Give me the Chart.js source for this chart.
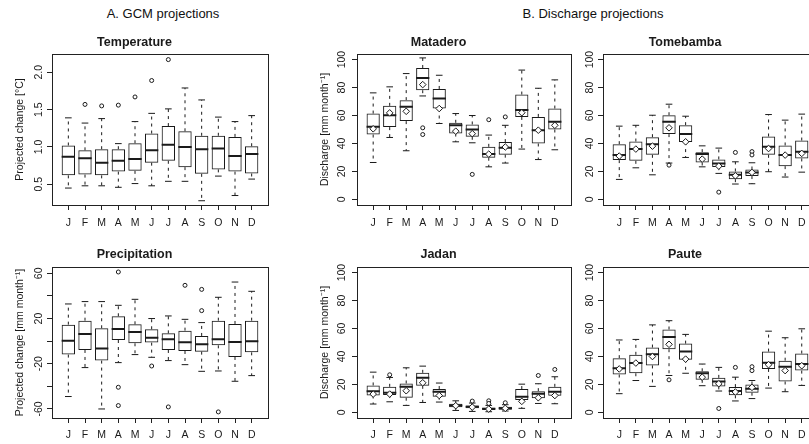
<!DOCTYPE html>
<html>
<head>
<meta charset="utf-8">
<script src="https://cdn.jsdelivr.net/npm/chart.js@4.4.1/dist/chart.umd.min.js"></script>
<style>
  html, body { margin: 0; padding: 0; width: 809px; height: 444px; overflow: hidden; background: #fff; }
  body { position: relative; font-family: "Liberation Sans", Arial, sans-serif; }
  canvas { position: absolute; }
  .col-title { position: absolute; font-size: 13px; color: #111; transform: translate(-50%, -50%); white-space: nowrap; }
</style>
</head>
<body>
<div class="col-title" style="left:163px;top:13px">A. GCM projections</div>
<div class="col-title" style="left:593px;top:13px">B. Discharge projections</div>
<canvas id="cTemp"></canvas>
<canvas id="cPrec"></canvas>
<canvas id="cMat"></canvas>
<canvas id="cTom"></canvas>
<canvas id="cJad"></canvas>
<canvas id="cPau"></canvas>
<script>
const MONTHS = ['J', 'F', 'M', 'A', 'M', 'J', 'J', 'A', 'S', 'O', 'N', 'D'];

// --- GCM: temperature change (°C)
const TEMP_LO  = [0.45, 0.48, 0.48, 0.46, 0.51, 0.48, 0.54, 0.54, 0.28, 0.61, 0.35, 0.57];
const TEMP_Q1  = [0.62, 0.63, 0.62, 0.67, 0.68, 0.79, 0.815, 0.73, 0.64, 0.70, 0.67, 0.645];
const TEMP_MED = [0.87, 0.85, 0.79, 0.815, 0.84, 0.955, 1.03, 1.00, 0.97, 0.98, 0.88, 0.905];
const TEMP_Q3  = [1.02, 0.955, 0.97, 0.97, 1.05, 1.18, 1.28, 1.21, 1.15, 1.15, 1.135, 1.01];
const TEMP_HI  = [1.39, 1.32, 1.38, 1.045, 1.34, 1.45, 1.51, 1.79, 1.63, 1.40, 1.34, 1.42];
const TEMP_OUT = [[], [1.57], [1.55], [1.56], [1.67], [1.89], [2.17], [], [], [], [], []];
const TEMP_TICKS = [0.5, 1.0, 1.5, 2.0];
const TEMP_TICK_LABELS = ['0.5', '1.0', '1.5', '2.0'];

// --- GCM: precipitation change (mm/month)
const PREC_LO  = [-49, -23.4, -60, -19, -11.9, -14.3, -17.2, -20.8, -26.7, -26.4, -35.5, -30.5];
const PREC_Q1  = [-11.9, -7.8, -17.2, 1.0, -1.9, -1.3, -7.8, -8.7, -9.3, -3.7, -14, -9.9];
const PREC_MED = [0.4, 6.3, -6.6, 10.8, 8.1, 3.1, 1.6, -1.0, -2.8, 1.6, -0.7, -0.1];
const PREC_Q3  = [14.6, 18.1, 11.4, 22, 14.9, 10.5, 6.9, 9.3, 4.6, 18.1, 15.2, 18.1];
const PREC_HI  = [32.9, 35, 35, 31.7, 37, 20, 22.3, 19.3, 16.4, 38.8, 52.3, 44.1];
const PREC_OUT = [[], [], [], [61.2, -40.8, -57], [], [-22], [-58.2], [49.4], [45.8, 27], [-62.6], [], []];
const PREC_TICKS = [-60, -40, -20, 0, 20, 40, 60];
const PREC_TICK_LABELS = ['-60', '', '-20', '', '20', '', '60'];

// --- discharge (mm/month)
const Q_TICKS = [0, 20, 40, 60, 80, 100];
const Q_TICK_LABELS = ['0', '20', '40', '60', '80', '100'];

const MAT_LO   = [26.4, 44.3, 34.8, 74, 54.3, 41.2, 40.5, 23.3, 26, 36, 28.5, 35.5];
const MAT_Q1   = [46.4, 51.7, 56, 78.1, 65, 47.1, 44.8, 29.8, 32, 59, 40, 50];
const MAT_MED  = [51.9, 60.2, 66.2, 86.9, 72.1, 53.1, 50, 32.4, 37, 64, 49.5, 55.5];
const MAT_Q3   = [61.4, 66.9, 71, 94, 79, 54.8, 53.6, 37.6, 41, 75, 59, 65];
const MAT_HI   = [76.2, 80.5, 90, 101.2, 88.8, 61.4, 60, 46, 53, 92.5, 79.5, 85.5];
const MAT_MEAN = [50.5, 61.9, 63, 82.1, 65, 48.8, 47, 32.4, 37.5, 62, 49.5, 53];
const MAT_OUT  = [[], [], [], [51.2, 46.4], [], [], [17.9], [57], [59], [], [], []];

const TOM_LO   = [14.3, 22.6, 17.6, 26, 30, 23.3, 18.6, 11, 11.2, 19.8, 16, 19.5];
const TOM_Q1   = [28.1, 27.6, 31.9, 46.7, 41, 26.4, 23.1, 14.5, 16.7, 31.9, 23.8, 29.3];
const TOM_MED  = [31.7, 36, 39.5, 55.5, 46.7, 32.4, 25.7, 17.6, 19.3, 37.6, 31.7, 34];
const TOM_Q3   = [39.5, 41.4, 44.5, 60.2, 53.1, 33.8, 28.6, 20, 21.4, 45, 38.6, 42.1];
const TOM_HI   = [52.4, 53, 60.2, 68.1, 59.5, 38.3, 36.7, 26.9, 26.2, 60.7, 56.7, 61];
const TOM_MEAN = [31, 36, 38.1, 51.2, 41.2, 28.8, 23.8, 16.9, 19.3, 36.4, 31.7, 32.9];
const TOM_OUT  = [[], [], [], [24.5], [], [], [5.2], [33.6], [34.2, 31.8], [], [], []];

const JAD_LO   = [6, 7.6, 5, 7.1, 7.4, 1.4, 0.7, 0.5, 1, 2.9, 6.4, 6.2];
const JAD_Q1   = [12.1, 12.4, 10.5, 19, 11.2, 3.6, 2.9, 1.7, 1.9, 8.8, 10.2, 11.9];
const JAD_MED  = [15.2, 14, 18.3, 24.8, 14.8, 5, 4, 2.6, 2.9, 11.2, 13.3, 14.8];
const JAD_Q3   = [19.3, 18.3, 20.7, 28.3, 16.7, 6.2, 5, 3.3, 4, 16.7, 15.2, 18.3];
const JAD_HI   = [28.8, 25, 31.9, 33.1, 21, 8.3, 6.7, 5, 5.5, 20.2, 20.5, 25.5];
const JAD_MEAN = [13.1, 13.1, 15.5, 21.2, 12.1, 4.8, 3.8, 2.4, 2.9, 7.9, 10.5, 12.1];
const JAD_OUT  = [[], [26.9], [], [], [], [], [8.1], [8.3, 6.4], [6.9], [], [26.4], [30.7]];

const PAU_LO   = [13.4, 22.8, 18.6, 26.4, 28, 19.1, 15.3, 8.2, 9.9, 17.4, 14.8, 19.3];
const PAU_Q1   = [27.1, 28, 33.6, 45.2, 37.6, 23.3, 18.6, 12.2, 14.1, 31.1, 22.1, 29.9];
const PAU_MED  = [31.5, 35.3, 41.6, 53.9, 43.5, 28, 22.1, 15.3, 16.9, 35.5, 32.7, 34.6];
const PAU_Q3   = [38.8, 41.2, 46.4, 59.3, 49.2, 29.4, 24.7, 18.1, 20, 43.5, 37, 42.1];
const PAU_HI   = [51.8, 52.2, 62.6, 65.6, 55.8, 34.6, 32.2, 25.2, 22.8, 58.1, 53.4, 59.8];
const PAU_MEAN = [31.1, 35.3, 40, 48.7, 38.1, 25.2, 20.5, 14.6, 17.9, 34.1, 29.9, 33.4];
const PAU_OUT  = [[], [], [], [23.3], [], [], [2.8], [32.2], [32.7, 29.9], [], [], []];

const FONT = '"Liberation Sans", Arial, Helvetica, sans-serif';
const INK = '#1a1a1a';
const BOX_W = 0.8;     // box width in month units (R boxwex)
const STAPLE = 0.2;    // half width of whisker end caps

// puntos con un hueco (y: null) despues de cada tramo
function segs(list) {
  const pts = [];
  list.forEach(([x0, y0, x1, y1]) => pts.push({ x: x0, y: y0 }, { x: x1, y: y1 }, { x: x1, y: null }));
  return pts;
}

const framePlugin = {
  id: 'frame',
  afterDatasetsDraw(chart) {
    const { ctx, chartArea: a } = chart;
    ctx.save();
    ctx.strokeStyle = '#222';
    ctx.lineWidth = 1;
    ctx.strokeRect(a.left + 0.5, a.top + 0.5, a.right - a.left, a.bottom - a.top);
    ctx.restore();
  }
};

// etiquetas del eje y giradas, como en R
const yLabelPlugin = {
  id: 'yLabels',
  afterDraw(chart, args, opts) {
    const { ctx, chartArea: a, scales: { y } } = chart;
    ctx.save();
    ctx.fillStyle = INK;
    ctx.font = '10.5px ' + FONT;
    ctx.textAlign = 'center';
    ctx.textBaseline = 'middle';
    opts.values.forEach((v, i) => {
      if (!opts.labels[i]) return;
      ctx.save();
      ctx.translate(a.left - opts.gap, y.getPixelForValue(v));
      ctx.rotate(-Math.PI / 2);
      ctx.fillText(opts.labels[i], 0, 0);
      ctx.restore();
    });
    ctx.restore();
  }
};

function buildPanel(p) {
  const AXW = 52, TOP = 28, PADR = 4, XH = 30;
  const w = p.box.r - p.box.l, h = p.box.b - p.box.t;
  const cv = document.getElementById(p.id);
  cv.width = AXW + w + PADR;
  cv.height = TOP + h + XH;
  cv.style.left = (p.box.l - AXW) + 'px';
  cv.style.top = (p.box.t - TOP) + 'px';

  const titlePadTop = p.titleY - p.box.t + TOP - 7.5;
  const xs = MONTHS.map((m, i) => i + 1);

  const datasets = [];
  if (p.mean) {
    datasets.push({
      type: 'scatter', order: 0,
      data: xs.map((x, i) => ({ x, y: p.mean[i] })),
      pointStyle: 'rectRot', pointRadius: 3.3, pointBorderWidth: 1,
      pointBackgroundColor: '#fff', pointBorderColor: INK
    });
  }
  datasets.push({
    type: 'scatter', order: 1,
    data: xs.flatMap((x, i) => p.out[i].map(v => ({ x, y: v }))),
    pointStyle: 'circle', pointRadius: 2, pointBorderWidth: 1,
    pointBackgroundColor: '#fff', pointBorderColor: INK
  });
  datasets.push({
    type: 'line', order: 2,
    data: segs(xs.map((x, i) => [x - BOX_W / 2, p.med[i], x + BOX_W / 2, p.med[i]])),
    borderColor: INK, borderWidth: 2, pointRadius: 0, spanGaps: false, fill: false
  });
  datasets.push({
    type: 'line', order: 3,
    data: segs(xs.flatMap((x, i) => [
      [x - STAPLE, p.hi[i], x + STAPLE, p.hi[i]],
      [x - STAPLE, p.lo[i], x + STAPLE, p.lo[i]]
    ])),
    borderColor: INK, borderWidth: 1, pointRadius: 0, spanGaps: false, fill: false
  });
  datasets.push({
    type: 'line', order: 4,
    data: segs(xs.flatMap((x, i) => [
      [x, p.q3[i], x, p.hi[i]],
      [x, p.q1[i], x, p.lo[i]]
    ])),
    borderColor: INK, borderWidth: 1, borderDash: [3, 4], pointRadius: 0, spanGaps: false, fill: false
  });
  datasets.push({
    type: 'bar', order: 5,
    data: xs.map((x, i) => ({ x, y: [p.q1[i], p.q3[i]] })),
    backgroundColor: 'rgba(0,0,0,0)', borderColor: INK, borderWidth: 1, borderSkipped: false,
    barPercentage: BOX_W, categoryPercentage: 1
  });

  new Chart(cv, {
    type: 'bar',
    data: { datasets },
    plugins: [framePlugin, yLabelPlugin],
    options: {
      responsive: false,
      animation: false,
      devicePixelRatio: 1,
      events: [],
      layout: { padding: { left: 0, top: 0, right: PADR, bottom: 0 } },
      plugins: {
        legend: { display: false },
        tooltip: { enabled: false },
        title: {
          display: true, text: p.title, color: INK,
          font: { family: FONT, size: 12.5, weight: 'bold', lineHeight: 1.2 },
          padding: { top: titlePadTop, bottom: TOP - 15 - titlePadTop }
        },
        yLabels: { values: p.ticks, labels: p.tickLabels, gap: p.gap }
      },
      scales: {
        x: {
          type: 'linear', min: 0.02, max: 12.98, offset: false,
          afterBuildTicks: s => { s.ticks = xs.map(v => ({ value: v })); },
          afterFit: s => { s.height = XH; },
          border: { display: false },
          grid: { offset: false, drawOnChartArea: false, drawTicks: true, tickLength: 5, color: '#222' },
          ticks: {
            autoSkip: false, maxRotation: 0, color: INK,
            font: { family: FONT, size: 10.5 },
            padding: p.labelY - p.box.b - 5 - 6.3,
            callback: v => MONTHS[v - 1]
          }
        },
        y: {
          type: 'linear', min: p.ymin, max: p.ymax, beginAtZero: false,
          afterBuildTicks: s => { s.ticks = p.ticks.map(v => ({ value: v })); },
          afterFit: s => { s.width = AXW; },
          border: { display: false },
          grid: { drawOnChartArea: false, drawTicks: true, tickLength: 5, color: '#222' },
          ticks: { display: false },
          title: {
            display: !!p.yTitle, text: p.yTitle || '', color: INK,
            font: { family: FONT, size: 10.5 },
            padding: { top: AXW - 32 - 6.3, bottom: 0 }
          }
        }
      }
    }
  });
}

const Q_TITLE = 'Discharge [mm month\u207B\u00B9]';

buildPanel({ id: 'cTemp', title: 'Temperature', yTitle: 'Projected change [°C]',
  box: { l: 52, t: 54, r: 269, b: 205 }, titleY: 42.3, labelY: 223, gap: 12.5,
  ymin: 0.223, ymax: 2.245, ticks: TEMP_TICKS, tickLabels: TEMP_TICK_LABELS,
  lo: TEMP_LO, q1: TEMP_Q1, med: TEMP_MED, q3: TEMP_Q3, hi: TEMP_HI, out: TEMP_OUT });

buildPanel({ id: 'cPrec', title: 'Precipitation', yTitle: 'Projected change [mm month\u207B\u00B9]',
  box: { l: 52, t: 267, r: 269, b: 418 }, titleY: 254.5, labelY: 435.5, gap: 12.5,
  ymin: -68, ymax: 65.6, ticks: PREC_TICKS, tickLabels: PREC_TICK_LABELS,
  lo: PREC_LO, q1: PREC_Q1, med: PREC_MED, q3: PREC_Q3, hi: PREC_HI, out: PREC_OUT });

buildPanel({ id: 'cMat', title: 'Matadero', yTitle: Q_TITLE,
  box: { l: 357, t: 54, r: 572, b: 205 }, titleY: 42.3, labelY: 223, gap: 14.4,
  ymin: -4, ymax: 104, ticks: Q_TICKS, tickLabels: Q_TICK_LABELS,
  lo: MAT_LO, q1: MAT_Q1, med: MAT_MED, q3: MAT_Q3, hi: MAT_HI, mean: MAT_MEAN, out: MAT_OUT });

// Tomebamba y Paute: sin titulo de eje (no cabe en el original)
buildPanel({ id: 'cTom', title: 'Tomebamba',
  box: { l: 603, t: 54, r: 819, b: 205 }, titleY: 42.3, labelY: 223, gap: 12.5,
  ymin: -4, ymax: 104, ticks: Q_TICKS, tickLabels: Q_TICK_LABELS,
  lo: TOM_LO, q1: TOM_Q1, med: TOM_MED, q3: TOM_Q3, hi: TOM_HI, mean: TOM_MEAN, out: TOM_OUT });

buildPanel({ id: 'cJad', title: 'Jadan', yTitle: Q_TITLE,
  box: { l: 357, t: 267, r: 572, b: 418 }, titleY: 255, labelY: 435.5, gap: 14.4,
  ymin: -4, ymax: 104, ticks: Q_TICKS, tickLabels: Q_TICK_LABELS,
  lo: JAD_LO, q1: JAD_Q1, med: JAD_MED, q3: JAD_Q3, hi: JAD_HI, mean: JAD_MEAN, out: JAD_OUT });

buildPanel({ id: 'cPau', title: 'Paute',
  box: { l: 603, t: 267, r: 819, b: 418 }, titleY: 255, labelY: 435.5, gap: 12.5,
  ymin: -4, ymax: 104, ticks: Q_TICKS, tickLabels: Q_TICK_LABELS,
  lo: PAU_LO, q1: PAU_Q1, med: PAU_MED, q3: PAU_Q3, hi: PAU_HI, mean: PAU_MEAN, out: PAU_OUT });
</script>
</body>
</html>
